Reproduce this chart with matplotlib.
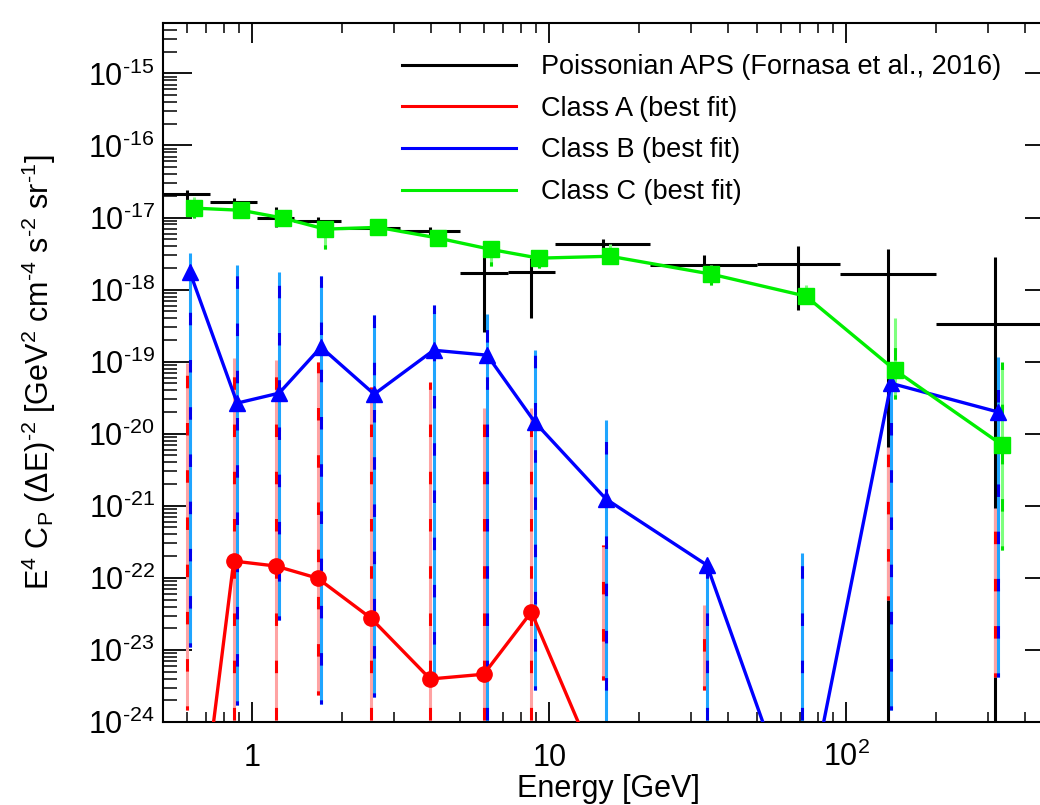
import numpy as np
import matplotlib
matplotlib.use('Agg')
import matplotlib.pyplot as plt
from matplotlib.lines import Line2D
from matplotlib.ticker import LogLocator, FixedLocator, FuncFormatter, NullFormatter

plt.rcParams['font.family'] = ['Liberation Sans', 'DejaVu Sans']
plt.rcParams['mathtext.fontset'] = 'custom'
plt.rcParams['mathtext.rm'] = 'Liberation Sans'
plt.rcParams['mathtext.it'] = 'Liberation Sans:italic'
plt.rcParams['mathtext.bf'] = 'Liberation Sans:bold'
plt.rcParams['mathtext.sf'] = 'Liberation Sans'
plt.rcParams['mathtext.default'] = 'regular'
plt.rcParams['lines.scale_dashes'] = False

# ---------------- data ----------------
bin_edges = [0.5, 0.72, 1.04, 1.38, 1.99, 3.15, 5.0, 7.23, 10.45, 21.83, 50.0, 95.0, 199.6, 500.0]

aps_val = [2.1e-17, 1.63e-17, 1.0e-17, 8.9e-18, 7.1e-18, 6.4e-18, 1.69e-18, 1.74e-18,
           4.26e-18, 2.18e-18, 2.25e-18, 1.64e-18, 3.3e-19]
aps_hi = [2.39e-17, 1.85e-17, 1.39e-17, 1.01e-17, 8.6e-18, 7.3e-18, 3.0e-18, 2.73e-18,
          5.0e-18, 3.0e-18, 4.0e-18, 3.6e-18, 2.8e-18]
aps_lo = [1.74e-17, 1.39e-17, 7.3e-18, 7.8e-18, 5.9e-18, 5.7e-18, 2.57e-19, 4.0e-19,
          3.5e-18, 1.27e-18, 5.2e-19, 1e-30, 1e-30]

nan = np.nan
classA = [1e-27, 1.71e-22, 1.46e-22, 9.9e-23, 2.77e-23, 3.95e-24, 4.6e-24, 3.36e-23,
          1.6e-25, nan, nan, nan, nan]
classA_hi = [9.5e-20, 1.12e-19, 1.05e-19, 9.8e-20, 4.4e-20, 5.2e-20, 2.3e-20, 2.3e-20,
             2.85e-22, 4.2e-23, nan, 6.5e-21, 9.3e-22]
classA_lo = [1.47e-24, 1e-26, 1e-26, 2.4e-24, 1e-26, 1e-26, 1e-26, 1e-26,
             3.8e-24, 2.8e-24, nan, 4.9e-23, 4.2e-24]

classB = [1.74e-18, 2.66e-20, 3.66e-20, 1.59e-19, 3.54e-20, 1.44e-19, 1.23e-19, 1.45e-20,
          1.24e-21, 1.5e-22, 3e-26, 5.0e-20, 2.0e-20]
classB_hi = [3.2e-18, 2.2e-18, 1.74e-18, 1.53e-18, 4.4e-19, 6.1e-19, 4.6e-19, 1.44e-19,
             1.54e-20, 1.5e-22, 2.2e-22, 5.0e-20, 1.15e-19]
classB_lo = [1.1e-23, 1.7e-24, 2.6e-23, 1.8e-24, 2.2e-24, 3.5e-24, 1e-26, 2.8e-24,
             8e-25, 1e-26, 1e-30, 1.47e-24, 4.2e-24]

classC = [1.35e-17, 1.26e-17, 9.8e-18, 6.9e-18, 7.3e-18, 5.2e-18, 3.6e-18, 2.73e-18,
          2.9e-18, 1.64e-18, 8.1e-19, 7.6e-20, 6.95e-21]
classC_hi = [1.9e-17, 1.6e-17, 1.14e-17, 9.0e-18, 8.4e-18, 6.3e-18, 4.6e-18, 3.5e-18,
             4.3e-18, 2.2e-18, 1.15e-18, 4.0e-19, 9.8e-20]
classC_lo = [9.8e-18, 1.0e-17, 7.7e-18, 3.7e-18, 6.1e-18, 4.0e-18, 2.1e-18, 2.0e-18,
             2.3e-18, 1.15e-18, 6.3e-19, 3e-20, 2.4e-22]

legend_labels = ['Poissonian APS (Fornasa et al., 2016)', 'Class A (best fit)',
                 'Class B (best fit)', 'Class C (best fit)']
xtick_vals = [1, 10, 100]
xtick_labels = ['1', '10', r'10$^{2}$']
ytick_exps = [-24, -23, -22, -21, -20, -19, -18, -17, -16, -15]

# ---------------- figure ----------------
W, H = 1040, 805
fig = plt.figure(figsize=(W / 100, H / 100), dpi=100)
ax = fig.add_axes([163 / W, 83 / H, 891 / W, 699 / H])
ax.set_xscale('log')
ax.set_yscale('log')

edges = np.array(bin_edges)
centers = np.sqrt(edges[:-1] * edges[1:])

# Poissonian APS (black crosses)
aps = np.array(aps_val)
ax.errorbar(centers, aps,
            xerr=[centers - edges[:-1], edges[1:] - centers],
            yerr=[aps - np.array(aps_lo), np.array(aps_hi) - aps],
            fmt='none', ecolor='black', elinewidth=2.2, capsize=0, zorder=1)

# dashed, two-tone uncertainty bars
def err_bars(xpos, lo, hi, light, dark, z):
    lo = np.array(lo, float)
    hi = np.array(hi, float)
    ok = np.isfinite(lo) & np.isfinite(hi)
    ax.vlines(xpos[ok], lo[ok], hi[ok], colors=light, linewidth=2.2,
              linestyles=[(0, (30, 4))], zorder=z)
    ax.vlines(xpos[ok], lo[ok], hi[ok], colors=dark, linewidth=2.2,
              linestyles=[(6, (9, 25))], zorder=z + 0.1)

xA = centers * 1.0
xB = centers * 1.027
xC = centers * 1.06
err_bars(xA, classA_lo, classA_hi, '#ffa3a3', '#ff0000', 2)
err_bars(xB, classB_lo, classB_hi, '#1fa5ff', '#0000ee', 2.2)
err_bars(xC, classC_lo, classC_hi, '#7dff7d', '#00e000', 2.4)

ax.plot(xA, classA, '-o', color='#ff0000', lw=2.4, ms=11, zorder=4)
ax.plot(xB, classB, '-^', color='#0000ff', lw=2.4, ms=11, zorder=4)
ax.plot(xC, classC, '-s', color='#00ee00', lw=2.4, ms=11, zorder=4)

# axes
ax.set_xlim(0.5, 500)
ax.set_ylim(1e-24, 5e-15)

ax.yaxis.set_major_locator(FixedLocator([10.0 ** e for e in ytick_exps]))
ax.yaxis.set_minor_locator(LogLocator(base=10, subs=np.arange(2, 10), numticks=100))
ax.yaxis.set_major_formatter(FuncFormatter(
    lambda v, p: '10$^{\u2010%d}$' % abs(int(round(np.log10(v))))))
ax.yaxis.set_minor_formatter(NullFormatter())

ax.xaxis.set_minor_locator(LogLocator(base=10, subs=np.arange(2, 10), numticks=100))
ax.xaxis.set_minor_formatter(NullFormatter())
ax.set_xticks(xtick_vals)
ax.set_xticklabels(xtick_labels)

ax.tick_params(axis='y', which='major', length=21, width=1.3, direction='in',
               left=True, right=True, labelsize=22, pad=6)
ax.tick_params(axis='y', which='minor', length=10, width=1.1, direction='in',
               left=True, right=True)
ax.tick_params(axis='x', which='major', length=14.5, width=1.3, direction='in',
               bottom=True, top=True, labelsize=22, pad=32)
ax.tick_params(axis='x', which='minor', length=7.2, width=1.1, direction='in',
               bottom=True, top=True)
for lbl in ax.get_xticklabels():
    lbl.set_verticalalignment('baseline')
for s in ax.spines.values():
    s.set_linewidth(1.5)

ax.set_xlabel('Energy [GeV]', fontsize=22)
ax.xaxis.set_label_coords(0.5, -0.074)
ax.set_ylabel('E$^{4}$ C$_{P}$ (ΔE)$^{\u20102}$ [GeV$^{2}$ cm$^{\u20104}$ '
              's$^{\u20102}$ sr$^{\u20101}$]', fontsize=22)
ax.yaxis.set_label_coords(-0.118, 0.5)

handles = [Line2D([], [], color=c, lw=2.2) for c in ['black', '#ff0000', '#0000ff', '#00ee00']]
ax.legend(handles, legend_labels, loc='upper left', frameon=False, fontsize=19.5,
          bbox_to_anchor=(402 / W, 1 - 54 / H), bbox_transform=fig.transFigure,
          borderaxespad=0, borderpad=0, handlelength=4.2, handletextpad=0.95,
          labelspacing=0.58)

fig.savefig('out.png', dpi=100)
